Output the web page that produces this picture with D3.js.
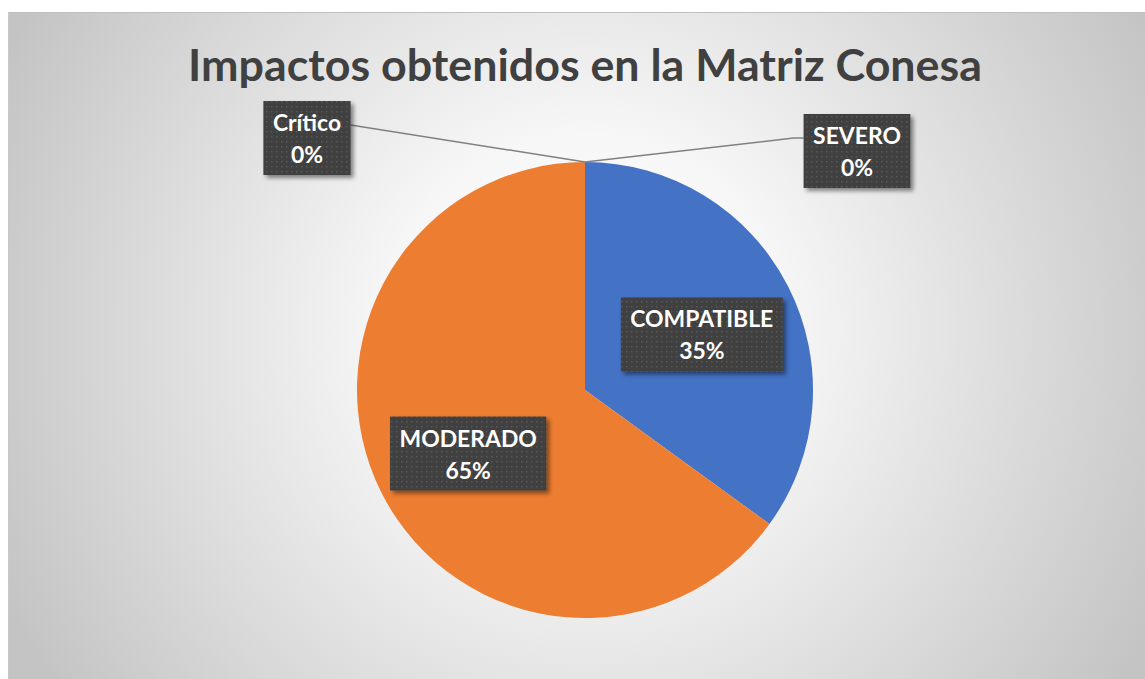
<!DOCTYPE html>
<html>
<head>
<meta charset="utf-8">
<script src="https://cdn.jsdelivr.net/npm/d3@7"></script>
<style>
  html, body { margin: 0; padding: 0; background: #ffffff; overflow: hidden; }
  svg { display: block; }
</style>
</head>
<body>
<svg id="chart" width="1145" height="679"></svg>
<script>
// ---- data ----
const title = "Impactos obtenidos en la Matriz Conesa";
const categories = ["COMPATIBLE", "MODERADO", "SEVERO", "Crítico"];
const values = [35, 65, 0, 0];
const colors = ["#4472C4", "#ED7D31", "#A5A5A5", "#FFC000"];

// ---- layout ----
const W = 1145, H = 679;
const box = { x: 8, y: 12, w: 1150, h: 680 };
const cx = 585, cy = 390, R = 228;
const fontFam = "Lato, 'Open Sans', sans-serif";

const svg = d3.select("#chart");
const defs = svg.append("defs");

// background radial gradient
const rg = defs.append("radialGradient").attr("id", "bg")
  .attr("gradientUnits", "userSpaceOnUse")
  .attr("cx", 585).attr("cy", 330).attr("r", 640);
rg.append("stop").attr("offset", "0%").attr("stop-color", "#ffffff");
rg.append("stop").attr("offset", "30%").attr("stop-color", "#f7f7f7");
rg.append("stop").attr("offset", "100%").attr("stop-color", "#c4c4c4");

// dotted pattern for labels
const pat = defs.append("pattern").attr("id", "dots")
  .attr("patternUnits", "userSpaceOnUse").attr("width", 5).attr("height", 5);
pat.append("rect").attr("width", 5).attr("height", 5).attr("fill", "#404040");
pat.append("rect").attr("x", 1).attr("y", 1).attr("width", 1.4).attr("height", 1.4).attr("fill", "#5a5a5a");

const sh = defs.append("filter").attr("id", "shadow")
  .attr("x", "-20%").attr("y", "-20%").attr("width", "150%").attr("height", "160%");
sh.append("feDropShadow").attr("dx", 3).attr("dy", 3).attr("stdDeviation", 2.2)
  .attr("flood-color", "#000").attr("flood-opacity", 0.45);

svg.append("rect").attr("x", box.x).attr("y", box.y).attr("width", box.w).attr("height", box.h)
  .attr("fill", "url(#bg)");
svg.append("line").attr("x1", box.x).attr("x2", W).attr("y1", box.y + 0.5).attr("y2", box.y + 0.5)
  .attr("stroke", "#bfbfbf").attr("stroke-width", 1);
svg.append("line").attr("x1", box.x + 0.5).attr("x2", box.x + 0.5).attr("y1", box.y).attr("y2", H)
  .attr("stroke", "#c8c8c8").attr("stroke-width", 1);

// title, fit to width
const titleEl = svg.append("text").attr("x", 585).attr("y", 81)
  .attr("text-anchor", "middle").attr("fill", "#404040")
  .attr("font-family", fontFam).attr("font-weight", "bold").attr("font-size", 44)
  .text(title);
{
  const w = titleEl.node().getComputedTextLength();
  const target = 794;
  titleEl.attr("font-size", 44 * target / w);
}

// ---- pie ----
const pie = d3.pie().sort(null).value(d => d.v);
const data = categories.map((c, i) => ({ c, v: values[i], col: colors[i] }));
const arcs = pie(data);
const arc = d3.arc().innerRadius(0).outerRadius(R);
const labelArc = d3.arc().innerRadius(R * 0.575).outerRadius(R * 0.575);
const total = d3.sum(values);

const g = svg.append("g").attr("transform", `translate(${cx},${cy})`);
g.selectAll("path").data(arcs.filter(a => a.data.v > 0)).join("path")
  .attr("d", arc).attr("fill", d => d.data.col);

// label metrics: fit font so "COMPATIBLE" is ~143px wide
let fs = 21;
{
  const probe = svg.append("text").attr("font-family", fontFam).attr("font-weight", "bold")
    .attr("font-size", 21).text("COMPATIBLE");
  fs = 21 * 143 / probe.node().getComputedTextLength();
  probe.remove();
}
const lineGap = 32;

function drawLabel(cxL, cyL, name, pct) {
  const lg = svg.append("g");
  const t1 = lg.append("text").attr("text-anchor", "middle").attr("fill", "#fff")
    .attr("font-family", fontFam).attr("font-weight", "bold").attr("font-size", fs)
    .attr("x", cxL).attr("y", cyL - 7).text(name);
  const t2 = lg.append("text").attr("text-anchor", "middle").attr("fill", "#fff")
    .attr("font-family", fontFam).attr("font-weight", "bold").attr("font-size", fs)
    .attr("x", cxL).attr("y", cyL - 7 + lineGap).text(pct);
  const tw = Math.max(t1.node().getComputedTextLength(), t2.node().getComputedTextLength());
  const bw = tw + 19, bh = 74;
  lg.insert("rect", "text").attr("x", cxL - bw / 2).attr("y", cyL - bh / 2)
    .attr("width", bw).attr("height", bh).attr("fill", "url(#dots)")
    .attr("filter", "url(#shadow)");
  return { x: cxL - bw / 2, y: cyL - bh / 2, w: bw, h: bh };
}

const fmt = v => d3.format(".0%")(v / total);

// leader lines for zero slices (drawn first, under labels)
const topPt = [cx, cy - R];
const zeroOffsets = { "SEVERO": [272, -11], "Crítico": [-278, -24] };
const leaderG = svg.append("g");

arcs.forEach(a => {
  if (a.data.v > 0) {
    const [lx, ly] = labelArc.centroid(a);
    drawLabel(cx + lx, cy + ly + 4, a.data.c, fmt(a.data.v));
  }
});
arcs.forEach(a => {
  if (a.data.v === 0) {
    const ang = a.startAngle;
    const px = cx + R * Math.sin(ang), py = cy - R * Math.cos(ang);
    const off = zeroOffsets[a.data.c];
    const b = drawLabel(px + off[0], py + off[1], a.data.c, fmt(a.data.v));
    let pts;
    if (off[0] > 0) {
      pts = [[px, py], [b.x - 10, b.y + 24], [b.x, b.y + 24]];
    } else {
      pts = [[px, py], [b.x + b.w, b.y + 24]];
    }
    leaderG.append("path").attr("d", d3.line()(pts))
      .attr("fill", "none").attr("stroke", "#808080").attr("stroke-width", 1.5);
  }
});
</script>
</body>
</html>
